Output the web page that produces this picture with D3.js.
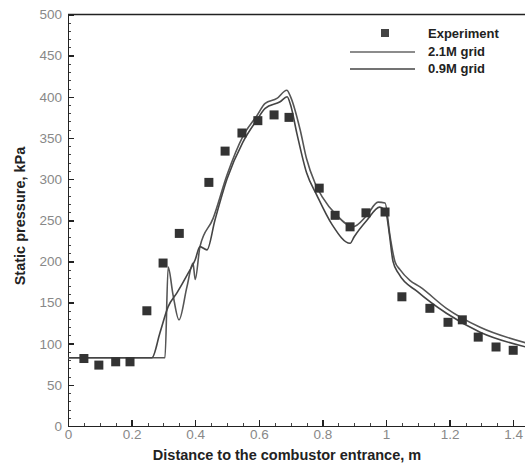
<!DOCTYPE html>
<meta charset="utf-8">
<style>
body { margin: 0; background: #fff; font-family: "Liberation Sans", Arial, sans-serif; }
.axis path, .axis line { fill: none; stroke: #222; stroke-width: 1.5; shape-rendering: crispEdges; }
.axis text { fill: #888; font-size: 13.5px; font-family: "Liberation Sans", Arial, sans-serif; }
.minor line { stroke: #444; stroke-width: 1; }
.minor path { display: none; }
.title { font-weight: bold; font-size: 14.5px; fill: #222; }
.legend { font-weight: bold; font-size: 13px; fill: #222; }
.sim { fill: none; stroke-width: 1.6; stroke-linejoin: round; }
</style>
<body>
<script src="https://cdn.jsdelivr.net/npm/d3@7"></script>
<script>
// experiment points (distance m, pressure kPa)
var expX = [0.05, 0.097, 0.15, 0.195, 0.248, 0.299, 0.35, 0.443, 0.494, 0.547, 0.597, 0.648, 0.695,
            0.79, 0.84, 0.887, 0.937, 0.997, 1.05, 1.138, 1.195, 1.24, 1.29, 1.346, 1.4];
var expP = [82, 74, 78, 78, 140, 198, 234, 296, 334, 356, 371, 378, 375,
            289, 256, 242, 259, 260, 157, 143, 126, 129, 108, 96, 92];

// 2.1M grid
var fineX = [0, 0.305, 0.315, 0.33, 0.349, 0.374, 0.393, 0.4, 0.415, 0.456, 0.5, 0.55, 0.594, 0.62, 0.657,
             0.688, 0.7, 0.73, 0.75, 0.777, 0.8, 0.845, 0.896, 0.94, 0.975, 0.997, 1.013, 1.028, 1.044,
             1.075, 1.107, 1.19, 1.296, 1.45];
var fineP = [83, 83, 193, 160, 129, 169, 198, 178, 218, 252, 305, 352, 377, 392, 398,
             408, 400, 360, 325, 295, 278, 256, 242, 256, 272, 271, 230, 200, 190,
             177, 169, 143, 120, 100];

// 0.9M grid
var coarseX = [0, 0.264, 0.289, 0.315, 0.343, 0.374, 0.4, 0.415, 0.437, 0.462, 0.5, 0.55, 0.594, 0.62, 0.667,
               0.689, 0.7, 0.72, 0.75, 0.783, 0.83, 0.887, 0.9, 0.94, 0.98, 1.0, 1.01, 1.022, 1.04,
               1.1, 1.19, 1.296, 1.45];
var coarseP = [83, 83, 113, 145, 162, 183, 202, 218, 214, 250, 300, 345, 372, 386, 394,
               400, 390, 355, 308, 280, 245, 222, 230, 250, 266, 259, 235, 200, 185,
               163, 137, 114, 95];

var xTicks = [0, 0.2, 0.4, 0.6, 0.8, 1, 1.2, 1.4];
var yTicks = [0, 50, 100, 150, 200, 250, 300, 350, 400, 450, 500];

var W = 525, H = 465;
var mLeft = 68, mTop = 14.5, mBottom = 426;

var x = d3.scaleLinear().domain([0, 1.45]).range([mLeft, mLeft + 1.45 * 318]);
var y = d3.scaleLinear().domain([0, 500]).range([mBottom, mTop]);

var svg = d3.select("body").append("svg")
    .attr("width", W)
    .attr("height", H);

svg.append("defs").append("clipPath").attr("id", "clip")
  .append("rect")
    .attr("x", mLeft).attr("y", mTop)
    .attr("width", W - mLeft).attr("height", mBottom - mTop);

// frame top
svg.append("line")
    .attr("x1", mLeft).attr("x2", W)
    .attr("y1", mTop).attr("y2", mTop)
    .attr("stroke", "#222").attr("stroke-width", 1.5);

// minor ticks
svg.append("g")
    .attr("class", "axis minor")
    .attr("transform", "translate(" + mLeft + ",0)")
    .call(d3.axisLeft(y).tickValues(d3.range(0, 501, 10)).tickSize(-3).tickFormat(""));
svg.append("g")
    .attr("class", "axis minor")
    .attr("transform", "translate(0," + mBottom + ")")
    .call(d3.axisBottom(x).tickValues(d3.range(0, 1.41, 0.05)).tickSize(-3).tickFormat(""));

// major axes
svg.append("g")
    .attr("class", "axis")
    .attr("transform", "translate(" + mLeft + ",0)")
    .call(d3.axisLeft(y).tickValues(yTicks).tickSizeInner(-6).tickSizeOuter(0).tickPadding(6));
svg.append("g")
    .attr("class", "axis")
    .attr("transform", "translate(0," + mBottom + ")")
    .call(d3.axisBottom(x).tickValues(xTicks).tickSizeInner(-6).tickSizeOuter(0).tickPadding(3)
      .tickFormat(function(d) { return d3.format("")(+d.toFixed(1)); }));

// simulation lines
var line = d3.line()
    .curve(d3.curveMonotoneX)
    .x(function(d) { return x(d[0]); })
    .y(function(d) { return y(d[1]); });

var plot = svg.append("g").attr("clip-path", "url(#clip)");

plot.append("path")
    .attr("class", "sim")
    .attr("stroke", "#555")
    .attr("d", line(d3.zip(fineX, fineP)));
plot.append("path")
    .attr("class", "sim")
    .attr("stroke", "#444")
    .attr("d", line(d3.zip(coarseX, coarseP)));

// experiment squares
var sq = 9;
plot.selectAll(".pt")
    .data(d3.zip(expX, expP))
  .enter().append("rect")
    .attr("class", "pt")
    .attr("x", function(d) { return x(d[0]) - sq / 2; })
    .attr("y", function(d) { return y(d[1]) - sq / 2; })
    .attr("width", sq)
    .attr("height", sq)
    .attr("fill", "#333");

// legend
var lg = svg.append("g");
lg.append("rect").attr("x", 381).attr("y", 29).attr("width", 8).attr("height", 8).attr("fill", "#444");
lg.append("text").attr("class", "legend").attr("x", 428).attr("y", 38).text("Experiment");
lg.append("line").attr("x1", 350).attr("x2", 415).attr("y1", 52).attr("y2", 52)
    .attr("stroke", "#666").attr("stroke-width", 1.5);
lg.append("text").attr("class", "legend").attr("x", 428).attr("y", 56).text("2.1M grid");
lg.append("line").attr("x1", 350).attr("x2", 415).attr("y1", 69).attr("y2", 69)
    .attr("stroke", "#444").attr("stroke-width", 1.5);
lg.append("text").attr("class", "legend").attr("x", 428).attr("y", 73).text("0.9M grid");

// axis titles
svg.append("text")
    .attr("class", "title")
    .attr("x", 287)
    .attr("y", 460)
    .style("text-anchor", "middle")
    .text("Distance to the combustor entrance, m");
svg.append("text")
    .attr("class", "title")
    .attr("transform", "translate(25,216) rotate(-90)")
    .style("text-anchor", "middle")
    .text("Static pressure, kPa");
</script>
</body>
